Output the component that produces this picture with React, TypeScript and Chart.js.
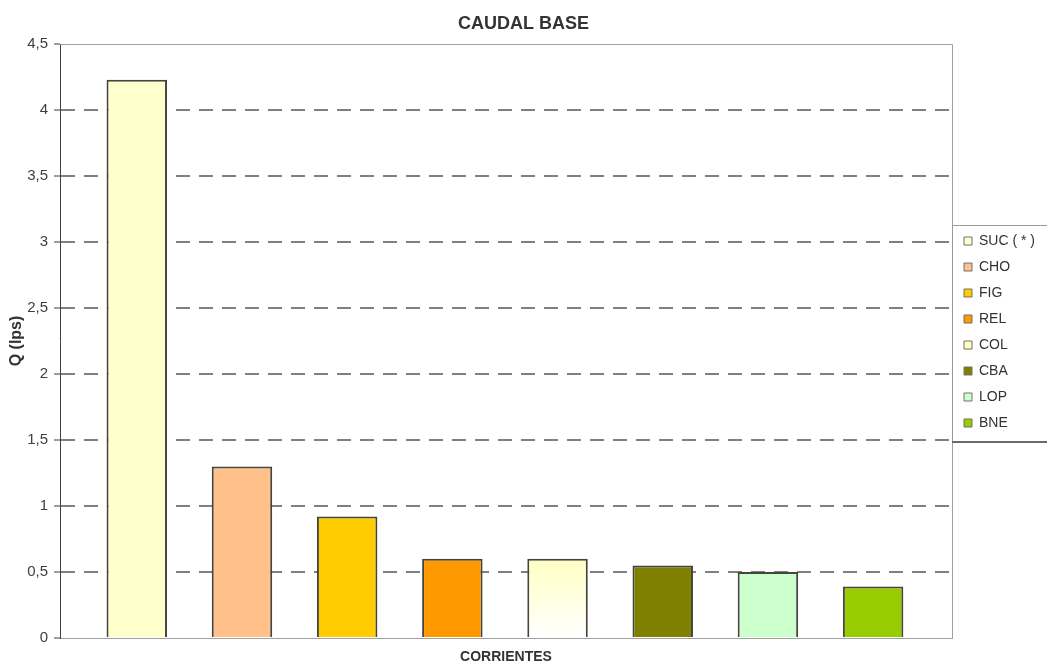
import { useEffect, useRef } from 'react';
import { Chart, registerables } from 'chart.js';

Chart.register(...registerables);

// ---- data ----
const categories = ['SUC ( * )', 'CHO', 'FIG', 'REL', 'COL', 'CBA', 'LOP', 'BNE'];
const caudal = [4.23, 1.3, 0.92, 0.6, 0.6, 0.55, 0.5, 0.39];
const positions = [1, 2, 3, 4, 5, 6, 7, 8];
const yTicks = [0, 0.5, 1, 1.5, 2, 2.5, 3, 3.5, 4, 4.5];
const yTickLabels = ['0', '0,5', '1', '1,5', '2', '2,5', '3', '3,5', '4', '4,5'];
const barColors = ['#FFFFCC', '#FFC08A', '#FFCC00', '#FF9900', '#FFFFE0', '#808000', '#CCFFCC', '#99CC00'];
const gradientIndex = 4;
const gradientStops = ['#FFFFC2', '#FFFFFF'];

const FONT = "'Liberation Sans', Arial, Helvetica, sans-serif";
const LEGEND_WIDTH = 95;

const framePlugin = {
  id: 'frames',
  beforeLayout(chart: any) {
    const lg = chart.legend;
    if (lg && !lg.__wrapped) {
      const orig = lg.fit.bind(lg);
      lg.fit = () => {
        orig();
        if (!lg.isHorizontal()) lg.width = LEGEND_WIDTH;
      };
      lg.__wrapped = true;
    }
  },
  afterDraw(chart: any) {
    const { ctx, chartArea } = chart;
    ctx.save();
    // plot area top & right border
    ctx.strokeStyle = '#a0a0a0';
    ctx.lineWidth = 1;
    ctx.beginPath();
    ctx.moveTo(Math.round(chartArea.left) + 0.5, Math.round(chartArea.top) + 0.5);
    ctx.lineTo(Math.round(chartArea.right) + 0.5, Math.round(chartArea.top) + 0.5);
    ctx.lineTo(Math.round(chartArea.right) + 0.5, Math.round(chartArea.bottom) + 0.5);
    ctx.stroke();
    // legend frame
    const lg = chart.legend;
    const hb = lg && lg.legendHitBoxes;
    if (hb && hb.length) {
      const first = hb[0];
      const last = hb[hb.length - 1];
      const top = Math.round(first.top - 9) + 0.5;
      const bottom = Math.round(last.top + last.height + 11) + 0.5;
      const left = Math.round(lg.left) + 0.5;
      const right = chart.width + 5;
      ctx.strokeStyle = '#9a9a9a';
      ctx.lineWidth = 1;
      ctx.beginPath();
      ctx.moveTo(right, top);
      ctx.lineTo(left, top);
      ctx.lineTo(left, bottom);
      ctx.stroke();
      ctx.strokeStyle = '#6a6a6a';
      ctx.lineWidth = 2;
      ctx.beginPath();
      ctx.moveTo(left - 0.5, bottom + 0.5);
      ctx.lineTo(right, bottom + 0.5);
      ctx.stroke();
    }
    ctx.restore();
  },
};

export default function App() {
  const ref = useRef<HTMLCanvasElement | null>(null);

  useEffect(() => {
    if (!ref.current) return;
    Chart.defaults.font.family = FONT;

    const gradientFill = (c: any) => {
      const chart = c.chart;
      const area = chart.chartArea;
      const ys = chart.scales && chart.scales.y;
      if (!area || !ys) return barColors[gradientIndex];
      const yTop = ys.getPixelForValue(caudal[gradientIndex]);
      const g = chart.ctx.createLinearGradient(0, yTop, 0, area.bottom);
      g.addColorStop(0, gradientStops[0]);
      g.addColorStop(1, gradientStops[1]);
      return g;
    };

    const datasets = categories.map((name, i) => ({
      label: name,
      data: [{ x: positions[i], y: caudal[i] }],
      backgroundColor: i === gradientIndex ? gradientFill : barColors[i],
      borderColor: '#45453f',
      borderWidth: 2,
      grouped: false,
      barPercentage: 0.575,
      categoryPercentage: 1,
    }));

    const chart = new Chart(ref.current, {
      type: 'bar',
      data: { datasets } as any,
      plugins: [framePlugin as any],
      options: {
        responsive: false,
        animation: false,
        devicePixelRatio: 1,
        layout: { padding: 0 },
        events: [],
        plugins: {
          title: {
            display: true,
            text: 'CAUDAL BASE',
            color: '#333333',
            font: { size: 18, weight: 'bold', family: FONT },
            padding: { top: 13, bottom: 9.4 },
          },
          legend: {
            display: true,
            position: 'right',
            align: 'center',
            labels: {
              boxWidth: 8,
              boxHeight: 8,
              padding: 12,
              color: '#333333',
              font: { size: 14, family: FONT },
              generateLabels: (ch: any) =>
                (Chart.defaults.plugins.legend.labels.generateLabels as any)(ch).map((l: any) => ({
                  ...l,
                  lineWidth: 1,
                  strokeStyle: '#707070',
                })),
            },
          },
          tooltip: { enabled: false },
        },
        scales: {
          x: {
            type: 'linear',
            bounds: 'data',
            offset: false,
            min: 0.27,
            max: 8.75,
            afterBuildTicks: (s: any) => {
              s.ticks = positions.map((v) => ({ value: v }));
            },
            afterFit: (s: any) => {
              s.height = 26;
            },
            ticks: { display: false },
            grid: { display: false, offset: false },
            border: { display: true, color: '#a0a0a0', width: 1 },
            title: {
              display: true,
              text: 'CORRIENTES',
              color: '#333333',
              font: { size: 14, weight: 'bold', family: FONT, lineHeight: 1 },
              padding: { top: 0, bottom: 0 },
            },
          },
          y: {
            type: 'linear',
            min: 0,
            max: 4.5,
            afterBuildTicks: (s: any) => {
              s.ticks = yTicks.map((v) => ({ value: v }));
            },
            afterFit: (s: any) => {
              s.width = 60;
            },
            ticks: {
              color: '#404040',
              padding: 6,
              font: { size: 15, family: FONT },
              callback: (v: any) => {
                const k = yTicks.indexOf(Number(v));
                return k >= 0 ? yTickLabels[k] : '';
              },
            },
            grid: {
              color: (c: any) =>
                c.tick && (c.tick.value === 0 || c.tick.value === 4.5) ? 'rgba(0,0,0,0)' : '#808080',
              lineWidth: 2,
              tickColor: '#404040',
              tickWidth: 1,
              tickLength: 6,
              drawTicks: true,
            },
            border: { display: true, color: '#404040', width: 1, dash: [14, 9] },
            title: {
              display: true,
              text: 'Q (lps)',
              color: '#333333',
              font: { size: 16, weight: 'bold', family: FONT },
              padding: { top: 7, bottom: 0 },
            },
          },
        },
      } as any,
    });

    return () => {
      chart.destroy();
    };
  }, []);

  return (
    <div style={{ position: 'absolute', left: 0, top: 0, width: 1047, height: 664, background: '#ffffff' }}>
      <canvas ref={ref} width={1047} height={664} style={{ display: 'block' }} />
    </div>
  );
}
